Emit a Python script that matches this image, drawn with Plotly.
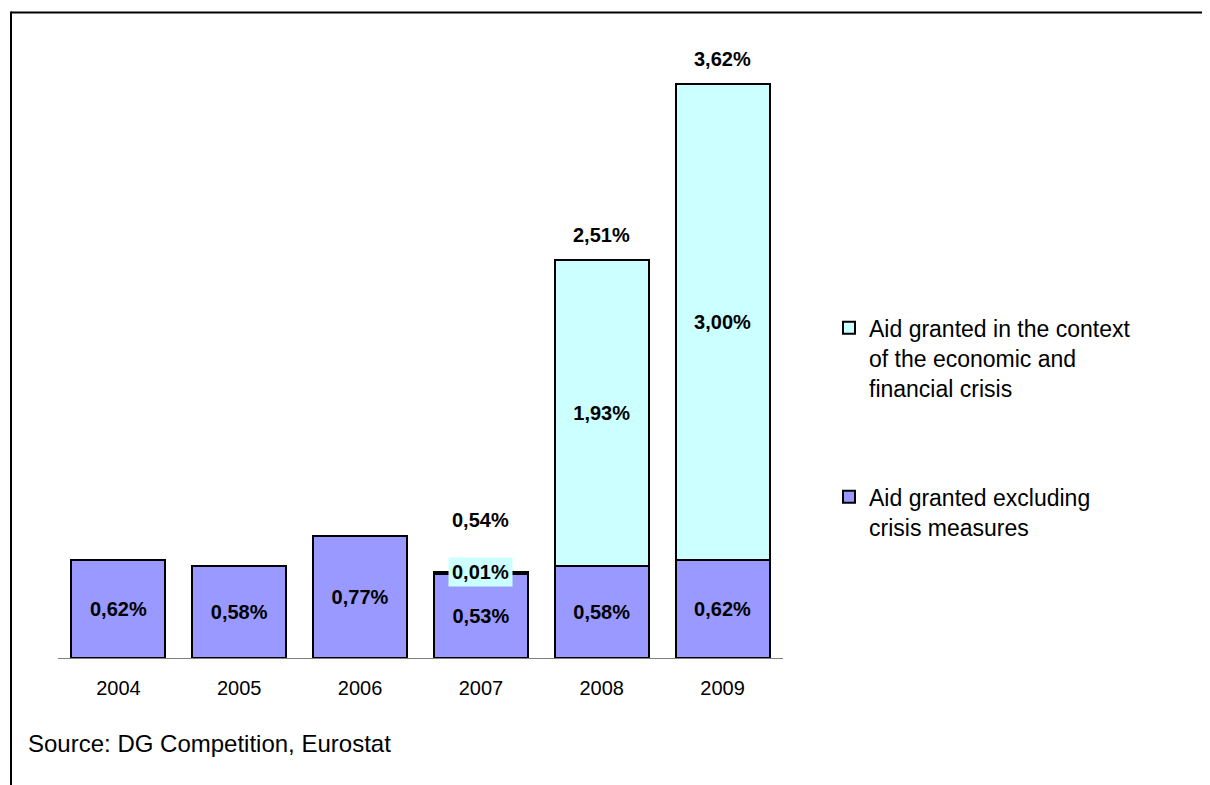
import plotly.graph_objects as go

years = ["2004", "2005", "2006", "2007", "2008", "2009"]
excl_crisis = [0.62, 0.58, 0.77, 0.53, 0.58, 0.62]
crisis = [None, None, None, 0.01, 1.93, 3.00]
totals = [None, None, None, 0.54, 2.51, 3.62]

name_crisis = "Aid granted in the context<br>of the economic and<br>financial crisis"
name_excl = "Aid granted excluding<br>crisis measures"
source_text = "Source: DG Competition, Eurostat"

FONT = "Arial, Liberation Sans, sans-serif"
OFF = 8  # page body margin
W, H = 1210 - OFF, 785 - OFF
# plot area in screen pixels
X0, X1, Y0, Y1 = 58, 783, 36.4, 658
L, R, T, B = X0 - OFF, W - (X1 - OFF), Y0 - OFF, H - (Y1 - OFF)
PW, PH = W - L - R, H - T - B
LBL = dict(family=FONT, size=20, color="black", weight="bold")


def fmt(v):
    return f"{v:.2f}".replace(".", ",") + "%"


def px(x):
    return (x - OFF - L) / PW


def py(y):
    return (H - B - (y - OFF)) / PH


fig = go.Figure()
fig.add_trace(go.Bar(
    x=years, y=excl_crisis, name=name_excl,
    marker=dict(color="#9999FF", line=dict(color="black", width=2)),
    text=[fmt(v) for v in excl_crisis], textposition="inside",
    insidetextanchor="middle", textfont=LBL,
    legend="legend2",
))
fig.add_trace(go.Bar(
    x=years, y=crisis, name=name_crisis,
    marker=dict(color="#CCFFFF", line=dict(color="black", width=2)),
    text=[fmt(v) if (v is not None and v >= 0.1) else "" for v in crisis],
    textposition="inside", insidetextanchor="middle", textfont=LBL,
    legend="legend",
))

# total labels above bars
for i, (tot, c) in enumerate(zip(totals, crisis)):
    if tot is None:
        continue
    shift = 25 if c >= 0.1 else 52
    fig.add_annotation(x=i, y=tot, text=fmt(tot), showarrow=False,
                       yshift=shift, font=LBL)
    if c < 0.1:
        fig.add_annotation(x=i, y=tot, text=fmt(c), showarrow=False,
                           bgcolor="#CCFFFF", borderpad=3, yshift=0, font=LBL)

fig.add_annotation(xref="paper", yref="paper", x=px(26), y=py(743), xanchor="left",
                   yanchor="middle", text=source_text, showarrow=False,
                   font=dict(family=FONT, size=24, color="black"))

# outer frame lines (top and left)
fig.add_shape(type="line", xref="paper", yref="paper", x0=px(11), x1=px(1215),
              y0=py(13), y1=py(13), line=dict(color="black", width=2))
fig.add_shape(type="line", xref="paper", yref="paper", x0=px(11), x1=px(11),
              y0=py(12), y1=py(790), line=dict(color="black", width=2))

fig.update_layout(
    width=W, height=H,
    margin=dict(l=L, r=R, t=T, b=B, pad=0),
    barmode="stack", bargap=0.222,
    paper_bgcolor="white", plot_bgcolor="white",
    font=dict(family=FONT, color="black"),
    showlegend=True,
    legend=dict(x=px(829), y=py(358), xanchor="left", yanchor="middle",
                valign="top", font=dict(family=FONT, size=23, color="black"),
                bgcolor="rgba(0,0,0,0)"),
    legend2=dict(x=px(829), y=py(512), xanchor="left", yanchor="middle",
                 valign="top", font=dict(family=FONT, size=23, color="black"),
                 bgcolor="rgba(0,0,0,0)"),
    xaxis=dict(type="category", range=[-0.5, len(years) - 0.5], showline=True,
               linecolor="#808080", linewidth=1, ticks="", ticklabelstandoff=12,
               tickfont=dict(family=FONT, size=20, color="black"), showgrid=False),
    yaxis=dict(range=[0, 3.92], visible=False, showgrid=False, zeroline=False),
)

fig.write_html("out.html")
